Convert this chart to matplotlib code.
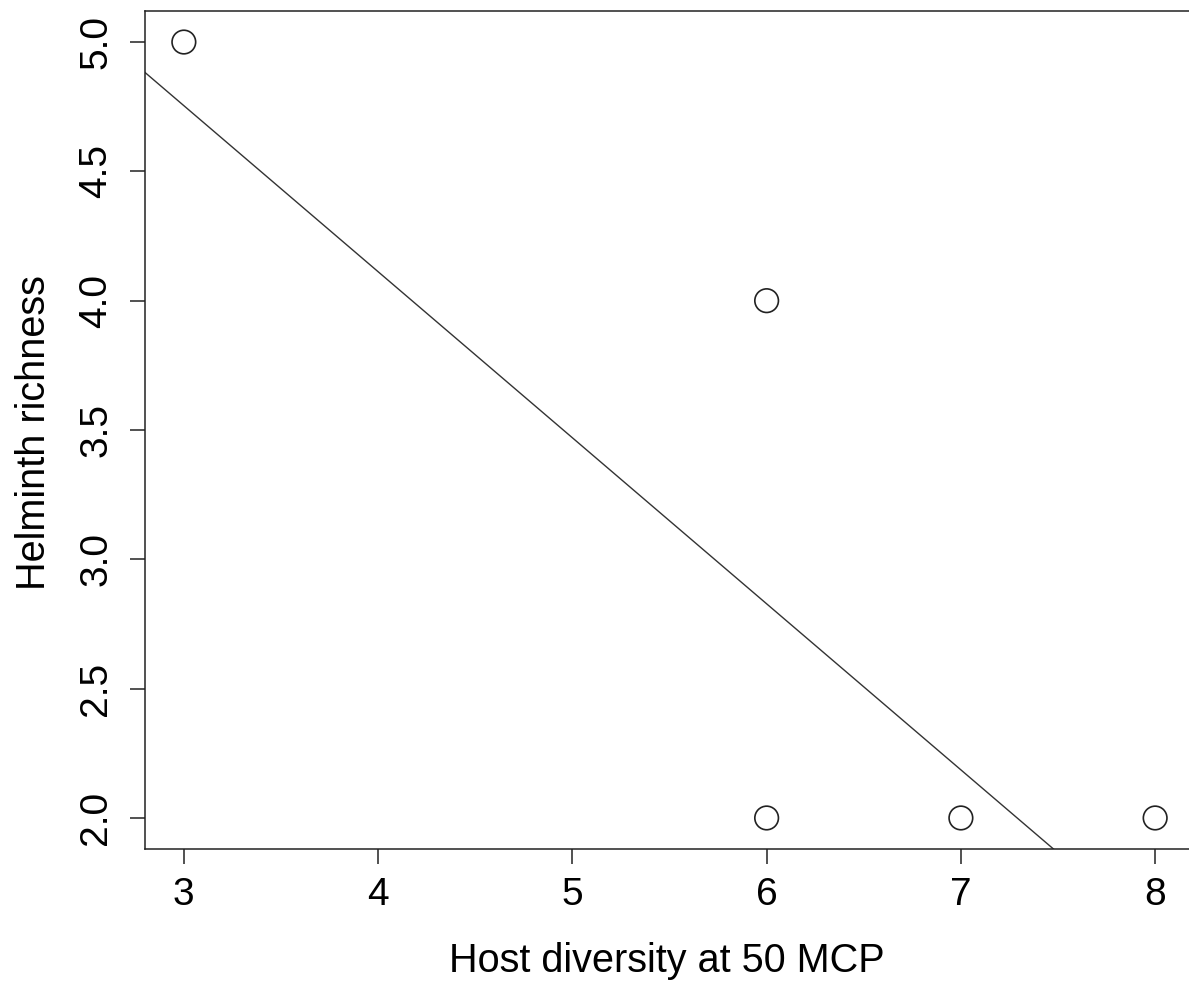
import matplotlib
matplotlib.use('Agg')
import matplotlib.pyplot as plt
import numpy as np

plt.rcParams['font.family'] = ['Liberation Sans', 'DejaVu Sans']

# host diversity vs helminth richness
host_div = [3, 6, 6, 7, 8]
helminth_rich = [5, 4, 2, 2, 2]

# fitted line as drawn (intercept, slope)
fit_coef = [6.68, -0.642]

x_ticks = [3, 4, 5, 6, 7, 8]
y_ticks = [2.0, 2.5, 3.0, 3.5, 4.0, 4.5, 5.0]

W, H = 1189, 984
fig = plt.figure(figsize=(W / 100, H / 100), dpi=100)
ax = fig.add_axes([145 / W, 1 - 849 / H, (1194 - 145) / W, (849 - 11) / H])

ax.scatter(host_div, helminth_rich, s=17 ** 2, facecolors='none',
           edgecolors='#222222', linewidths=1.2, zorder=3)

xl = np.array([2.8, 8.2])
ax.plot(xl, fit_coef[0] + fit_coef[1] * xl, color='#333333', lw=1.0)

ax.set_xlim(2.8, 8.2)
ax.set_ylim(1.88, 5.12)
ax.set_xticks(x_ticks)
ax.set_yticks(y_ticks)
ax.set_yticklabels(['%.1f' % v for v in y_ticks], rotation=90, va='center')
ax.tick_params(axis='both', labelsize=28, length=11, width=1.1, color='#222222')
ax.tick_params(axis='x', pad=9)
ax.tick_params(axis='y', pad=11)
for s in ax.spines.values():
    s.set_linewidth(1.1)
    s.set_color('#222222')

fig.text(0.5 * (145 + 1194) / W - 0.002, 1 - 972 / H, 'Host diversity at 50 MCP',
         fontsize=28.5, ha='center', va='baseline')
fig.text(45 / W, 1 - 433 / H, 'Helminth richness', fontsize=28.5,
         rotation=90, rotation_mode='anchor', ha='center', va='baseline')

fig.savefig('out.png', dpi=100)
